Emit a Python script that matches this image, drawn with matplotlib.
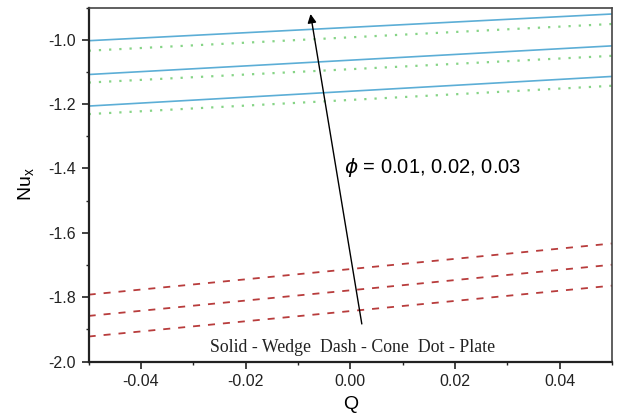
import matplotlib
matplotlib.use("Agg")
import matplotlib.pyplot as plt
from matplotlib.ticker import MultipleLocator

# Q range (end points of each curve)
Q = [-0.05, 0.05]

# Nu_x for phi = 0.01, 0.02, 0.03 (top to bottom in each group)
wedge = [[-1.003, -0.920], [-1.108, -1.019], [-1.206, -1.114]]
cone = [[-1.792, -1.633], [-1.858, -1.699], [-1.922, -1.764]]
plate = [[-1.034, -0.951], [-1.133, -1.050], [-1.231, -1.143]]

xticks = [-0.04, -0.02, 0.0, 0.02, 0.04]
xlabels = ['-0.04', '-0.02', '0.00', '0.02', '0.04']
yticks = [-2.0, -1.8, -1.6, -1.4, -1.2, -1.0]
ylabels = ['-2.0', '-1.8', '-1.6', '-1.4', '-1.2', '-1.0']

phi_label = r"$\phi$ = 0.01, 0.02, 0.03"
note = "Solid - Wedge  Dash - Cone  Dot - Plate"

plt.rcParams['font.family'] = ['Liberation Sans', 'DejaVu Sans']

fig = plt.figure(figsize=(6.2, 4.2), dpi=100)
ax = fig.add_axes([0.143, 0.139, 0.844, 0.843])

for y in wedge:
    ax.plot(Q, y, color='#5caed6', lw=1.2, ls='-')
for y in plate:
    ax.plot(Q, y, color='#86d486', lw=1.6, dashes=(1.0, 3.6))
for y in cone:
    ax.plot(Q, y, color='#b83c3c', lw=1.3, dashes=(3.9, 4.4))

ax.set_xlim(-0.05, 0.05)
ax.set_ylim(-2.0, -0.9)
ax.xaxis.set_minor_locator(MultipleLocator(0.01))
ax.yaxis.set_minor_locator(MultipleLocator(0.1))
ax.set_xticks(xticks)
ax.set_xticklabels(xlabels)
ax.set_yticks(yticks)
ax.set_yticklabels(ylabels)

ax.tick_params(which='major', direction='out', length=5, width=1.2,
               labelsize=11.5, pad=4, colors='#222222')
ax.tick_params(which='minor', direction='out', length=2.5, width=1.0,
               colors='#222222')
for side in ['left', 'bottom']:
    ax.spines[side].set_linewidth(1.6)
    ax.spines[side].set_color('#222222')
for side in ['top', 'right']:
    ax.spines[side].set_linewidth(1.2)
    ax.spines[side].set_color('#444444')

ax.set_xlabel('Q', fontsize=14, labelpad=5)
ax.set_ylabel(r'Nu$_\mathregular{x}$', fontsize=14, labelpad=8)

# arrow showing increasing phi
ax.annotate('', xy=(-0.0076, -0.92), xytext=(0.0022, -1.883),
            arrowprops=dict(arrowstyle='-|>', color='black', lw=1.0,
                            mutation_scale=13, shrinkA=0, shrinkB=0))
ax.text(-0.0012, -1.396, phi_label, fontsize=14.5, ha='left', va='center')
ax.text(0.0005, -1.955, note, fontsize=12.8, ha='center', va='center',
        family=['Liberation Serif', 'DejaVu Serif'], color='#222222')

fig.savefig('out.png', dpi=100)
